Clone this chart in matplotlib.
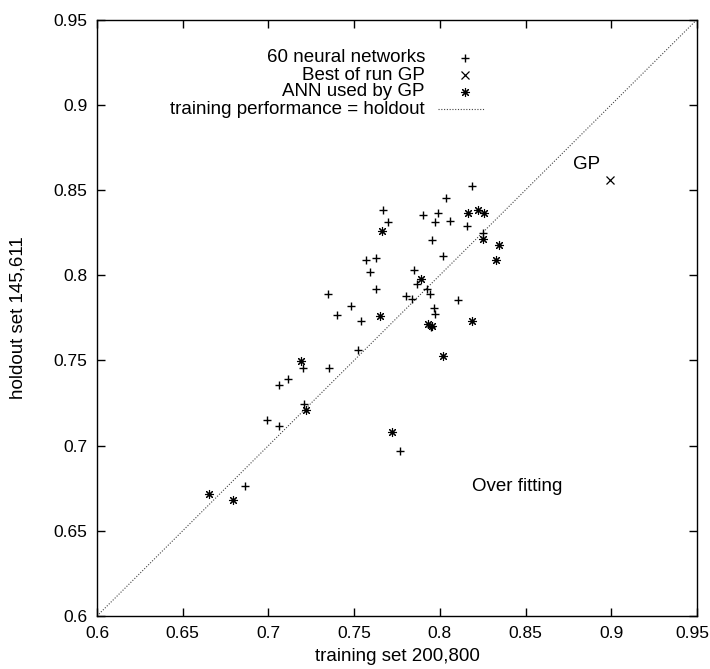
import matplotlib
matplotlib.use("Agg")
import matplotlib.pyplot as plt
from matplotlib.lines import Line2D
from matplotlib.transforms import ScaledTranslation

plt.rcParams['font.family'] = ['Liberation Sans', 'DejaVu Sans']

# 60 neural networks (visible '+' marks)
nn_train = [0.767, 0.770, 0.819, 0.8036, 0.790, 0.799, 0.797, 0.806, 0.816, 0.825,
            0.7955, 0.802, 0.757, 0.763, 0.759, 0.763, 0.735, 0.748, 0.740, 0.754,
            0.785, 0.7868, 0.7923, 0.7943, 0.780, 0.784, 0.8108, 0.7968, 0.797, 0.7946,
            0.752, 0.7203, 0.7353, 0.7112, 0.7064, 0.7207, 0.6994, 0.7064, 0.6865, 0.777]
nn_hold = [0.838, 0.831, 0.8525, 0.8453, 0.835, 0.8365, 0.831, 0.832, 0.829, 0.8247,
           0.8208, 0.8114, 0.809, 0.810, 0.8016, 0.792, 0.789, 0.782, 0.7766, 0.773,
           0.8028, 0.795, 0.7918, 0.789, 0.788, 0.786, 0.7855, 0.7807, 0.7773, 0.7693,
           0.7558, 0.7458, 0.7458, 0.739, 0.7356, 0.7245, 0.7151, 0.7116, 0.6765, 0.6969]

# Best of run GP
gp_train = [0.899]
gp_hold = [0.856]

# ANN used by GP
ann_train = [0.766, 0.765, 0.789, 0.8167, 0.8225, 0.8258, 0.825, 0.8346, 0.833,
             0.7929, 0.7955, 0.819, 0.802, 0.7723, 0.7188, 0.7219, 0.6655, 0.6795]
ann_hold = [0.826, 0.776, 0.798, 0.8365, 0.838, 0.8365, 0.821, 0.8177, 0.809,
            0.7715, 0.7700, 0.7728, 0.7527, 0.7082, 0.7499, 0.7206, 0.6715, 0.668]

diag = [0.6, 0.95]
ticks = [0.6, 0.65, 0.7, 0.75, 0.8, 0.85, 0.9, 0.95]
tick_labels = ['0.6', '0.65', '0.7', '0.75', '0.8', '0.85', '0.9', '0.95']

FS = 13.5
TFS = 12.5

fig = plt.figure(figsize=(7.1, 6.69), dpi=100)
ax = fig.add_axes([97/710, 53/669, 600/710, 596.5/669])

star = (8, 2, 0)
ax.plot(diag, diag, linestyle=(0, (1, 1.5)), color='#444444', lw=0.8)
ax.plot(nn_train, nn_hold, linestyle='none', marker='+', ms=6, mew=1.0, color='black')
ax.plot(gp_train, gp_hold, linestyle='none', marker='x', ms=5.5, mew=0.9, color='black')
ax.plot(ann_train, ann_hold, linestyle='none', marker=star, ms=6.5, mew=0.8, color='black')

ax.set_xlim(0.6, 0.95)
ax.set_ylim(0.6, 0.95)
ax.set_xticks(ticks)
ax.set_xticklabels(tick_labels)
ax.set_yticks(ticks)
ax.set_yticklabels(tick_labels)
ax.tick_params(direction='in', length=6, width=1, top=True, right=True,
               labelsize=TFS, pad=7)
for s in ax.spines.values():
    s.set_linewidth(1.0)

# keep the last x tick label inside the canvas
last = ax.get_xticklabels()[-1]
last.set_transform(last.get_transform() + ScaledTranslation(-5/100, 0, fig.dpi_scale_trans))

ax.set_xlabel('training set 200,800', fontsize=FS, labelpad=5)
ax.set_ylabel('holdout set 145,611', fontsize=FS, labelpad=19)

ax.text(0.8777, 0.8648, 'GP', fontsize=FS, ha='left', va='center')
ax.text(0.8186, 0.676, 'Over fitting', fontsize=FS, ha='left', va='center')

# gnuplot-style legend (text right-aligned, sample on the right)
labels = ['60 neural networks', 'Best of run GP', 'ANN used by GP',
          'training performance = holdout']
rows_y = [1 - (58 - 19.5) / 596.5, 1 - (75 - 19.5) / 596.5,
          1 - (92 - 19.5) / 596.5, 1 - (109 - 19.5) / 596.5]
tx = (425 - 97) / 600
sx0 = (438 - 97) / 600
sx1 = (485 - 97) / 600
smid = (465 - 97) / 600
for lab, yy in zip(labels, rows_y):
    ax.text(tx, yy, lab, transform=ax.transAxes, ha='right', va='center', fontsize=FS)
ax.add_line(Line2D([smid], [rows_y[0]], transform=ax.transAxes, marker='+', ms=6,
                   mew=1.0, color='black', linestyle='none'))
ax.add_line(Line2D([smid], [rows_y[1]], transform=ax.transAxes, marker='x', ms=5.5,
                   mew=0.9, color='black', linestyle='none'))
ax.add_line(Line2D([smid], [rows_y[2]], transform=ax.transAxes, marker=star, ms=6.5,
                   mew=0.8, color='black', linestyle='none'))
ax.add_line(Line2D([sx0, sx1], [rows_y[3], rows_y[3]], transform=ax.transAxes,
                   linestyle=(0, (1, 1.5)), color='#444444', lw=0.8))

fig.savefig('out.png', dpi=100)
